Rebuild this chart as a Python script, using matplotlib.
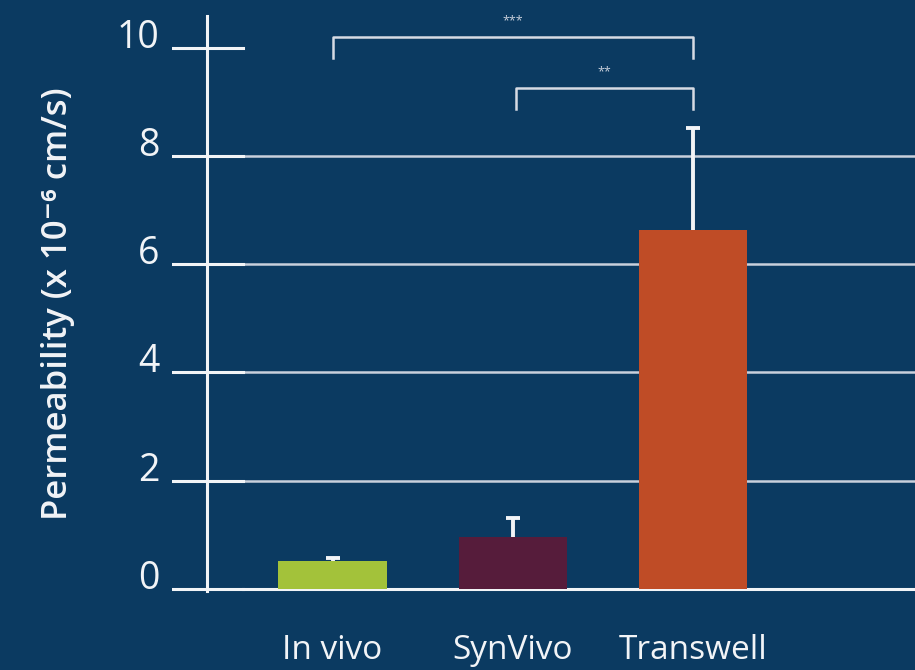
import matplotlib as mpl
import matplotlib.pyplot as plt

mpl.rcParams['font.family'] = ['Open Sans', 'DejaVu Sans']

# data
groups = ['In vivo', 'SynVivo', 'Transwell']
perm = [0.52, 0.96, 6.64]
perm_err = [0.04, 0.34, 1.88]
bar_colors = ['#a3c23a', '#561c3b', '#bf4c26']
y_ticks = [0, 2, 4, 6, 8, 10]
# significance brackets: (left group, right group, height, label)
brackets = [(0, 2, 10.2, '***'), (1.02, 2, 9.26, '**')]

bg = '#0b3a61'
fg = '#f2f4f7'

fig = plt.figure(figsize=(9.15, 6.7), dpi=100, facecolor=bg)
ax = fig.add_axes([172 / 915, 65 / 670, 743 / 915, 603 / 670], facecolor=bg)

x = list(range(len(groups)))
ax.bar(x, perm, width=0.6, color=bar_colors, zorder=3)
eb = ax.errorbar(x, perm, yerr=[[0] * len(perm), perm_err], fmt='none',
                 ecolor=fg, elinewidth=2.8, capsize=5, capthick=2.8, zorder=4)
eb[1][0].set_visible(False)  # only the upper cap

ax.set_xlim(-0.89, 3.23)
ax.set_ylim(-0.3, 10.85)
for s in ax.spines.values():
    s.set_visible(False)

# axis line, ticks and gridlines drawn by hand
ax.plot([-0.695, -0.695], [-0.05, 10.6], color=fg, lw=2.2, zorder=5)
for t in y_ticks:
    ax.plot([-0.89, -0.497], [t, t], color=fg, lw=2.2, zorder=5)
    if t < 10:
        ax.plot([-0.497, 3.23], [t, t], color='#c9d0dc' if t else fg,
                lw=1.8 if t else 2.2, zorder=2)

ax.set_yticks(y_ticks)
ax.set_yticklabels([str(t) for t in y_ticks])
ax.tick_params(axis='y', length=0, pad=9, labelsize=27, labelcolor=fg)
for lab in ax.get_yticklabels():
    lab.set_verticalalignment('baseline')

ax.set_xticks(x)
ax.set_xticklabels(groups)
ax.tick_params(axis='x', length=0, pad=21, labelsize=24, labelcolor=fg)

ax.set_ylabel('Permeability (x 10\u207b\u2076 cm/s)', fontsize=25, color=fg,
              fontweight='semibold', labelpad=30)

for a, b, h, lab in brackets:
    ax.plot([a, a, b, b], [h - 0.39, h, h, h - 0.39], color='#d6dbe4', lw=1.8,
            zorder=5, clip_on=False)
    ax.text((a + b) / 2, h + 0.18, lab, ha='center', va='bottom', fontsize=9,
            color='#c9d0dc')

fig.savefig('out.png', dpi=100, facecolor=bg)
